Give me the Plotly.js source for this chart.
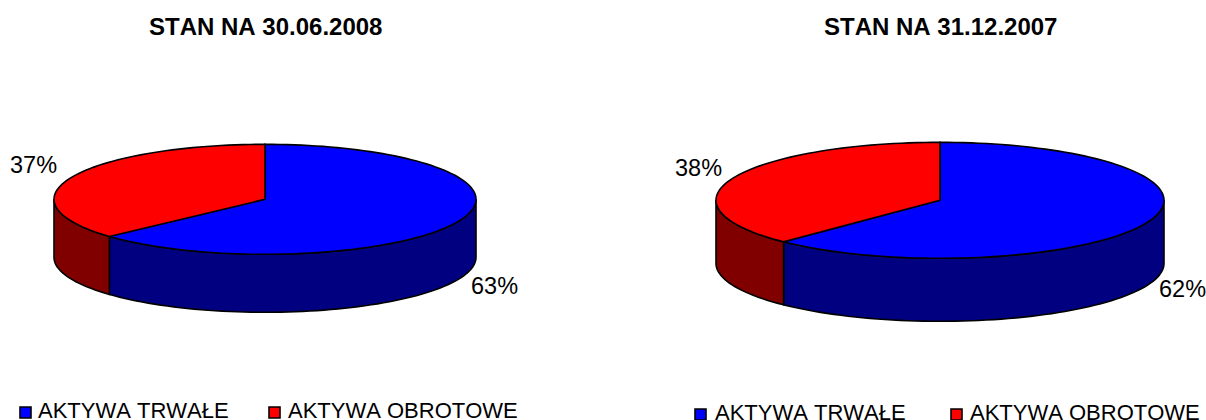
<!DOCTYPE html>
<html>
<head>
<meta charset="utf-8">
<script src="https://cdn.plot.ly/plotly-3.0.1.min.js"></script>
<style>html,body{margin:0;padding:0;background:#fff;overflow:hidden} svg text{font-kerning:none}</style>
</head>
<body>
<div id="chart" style="width:1206px;height:420px"></div>
<script>
var categories = ["AKTYWA TRWAŁE", "AKTYWA OBROTOWE"];
var titles = ["STAN NA 30.06.2008", "STAN NA 31.12.2007"];
var valuesLeft = [63.2, 36.8];
var valuesRight = [62.3, 37.7];
var topColors = ["#0000ff", "#ff0000"];
var sideColors = ["#000080", "#800000"];

var pieLeft = {values: valuesLeft, cx: 265, cy: 199.3, rx: 211, ry: 55, depth: 58, titleX: 265,
  lab: [[494, 286], [33.5, 165]], leg: {y: 410, sq: [25.5, 274.5], tx: [38, 288]}};
var pieRight = {values: valuesRight, cx: 940, cy: 200.3, rx: 224, ry: 58, depth: 63, titleX: 940,
  lab: [[1182, 289], [698, 168]], leg: {y: 412, sq: [700.5, 956.5], tx: [715, 970]}};

var traces = [], annotations = [];
var FONT = "Liberation Sans, Arial, sans-serif";

function pt(p, deg, dy) {
  var a = deg * Math.PI / 180;
  return [p.cx + p.rx * Math.sin(a), p.cy - p.ry * Math.cos(a) + (dy || 0)];
}
function arc(p, a0, a1, dy) {
  var out = [], n = Math.max(2, Math.round(Math.abs(a1 - a0) / 2));
  for (var i = 0; i <= n; i++) out.push(pt(p, a0 + (a1 - a0) * i / n, dy));
  return out;
}
function poly(points, color) {
  traces.push({
    type: "scatter", mode: "lines", fill: "toself", fillcolor: color,
    x: points.map(function (q) { return q[0]; }),
    y: points.map(function (q) { return q[1]; }),
    line: {color: "#000", width: 1.6, simplify: false},
    hoverinfo: "skip", showlegend: false
  });
}
function draw(p, title) {
  var total = p.values[0] + p.values[1];
  var split = 360 * p.values[0] / total;
  // outer wall, front half only
  poly(arc(p, 90, split, 0).concat(arc(p, split, 90, p.depth)).concat([pt(p, 90, 0)]), sideColors[0]);
  poly(arc(p, split, 270, 0).concat(arc(p, 270, split, p.depth)).concat([pt(p, split, 0)]), sideColors[1]);
  // top face
  var c = [p.cx, p.cy];
  poly([c].concat(arc(p, 0, split, 0)).concat([c]), topColors[0]);
  poly([c].concat(arc(p, split, 360, 0)).concat([c]), topColors[1]);
  // texts
  annotations.push({x: p.titleX, y: 26, text: "<b>" + title + "</b>", showarrow: false,
    xanchor: "center", yanchor: "middle", font: {family: FONT, size: 24, color: "#000"}});
  p.values.forEach(function (v, i) {
    annotations.push({x: p.lab[i][0], y: p.lab[i][1], text: Math.round(v) + "%", showarrow: false,
      xanchor: "center", yanchor: "middle", font: {family: FONT, size: 23.5, color: "#000"}});
    annotations.push({x: p.leg.tx[i], y: p.leg.y, text: categories[i], showarrow: false,
      xanchor: "left", yanchor: "middle", xshift: -2, font: {family: FONT, size: 22, color: "#000"}});
    traces.push({type: "scatter", mode: "markers", x: [p.leg.sq[i]], y: [p.leg.y + 2.5],
      marker: {symbol: "square", size: 11, color: topColors[i], line: {color: "#000", width: 1.6}},
      hoverinfo: "skip", showlegend: false});
  });
}
draw(pieLeft, titles[0]);
draw(pieRight, titles[1]);

var hidden = {visible: false, fixedrange: true};
Plotly.newPlot("chart", traces, {
  width: 1206, height: 420,
  margin: {l: 0, r: 0, t: 0, b: 0},
  paper_bgcolor: "#fff", plot_bgcolor: "#fff",
  xaxis: Object.assign({range: [0, 1206]}, hidden),
  yaxis: Object.assign({range: [420, 0]}, hidden),
  annotations: annotations,
  showlegend: false
}, {displayModeBar: false, staticPlot: true});
</script>
</body>
</html>
